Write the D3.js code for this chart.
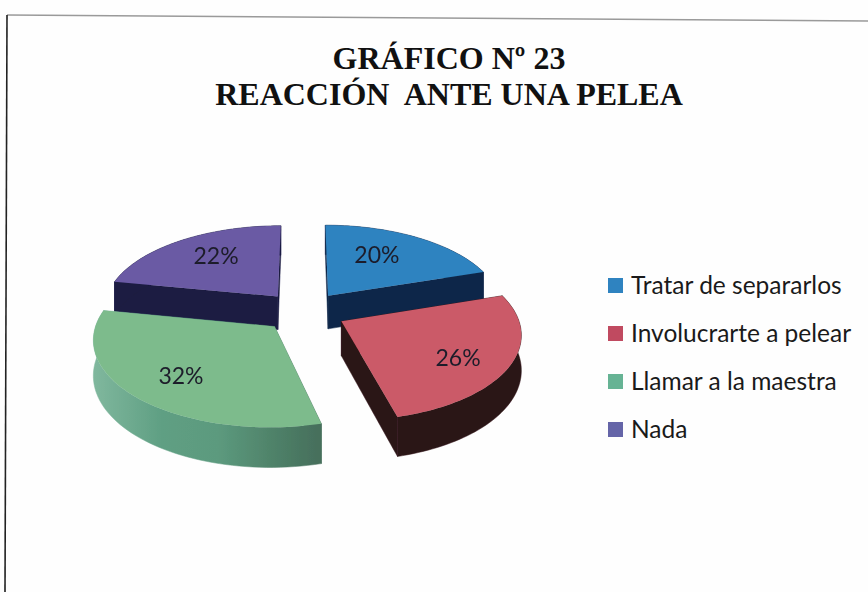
<!DOCTYPE html>
<html><head><meta charset="utf-8">
<script src="https://cdn.jsdelivr.net/npm/d3@7"></script>
<style>html,body{margin:0;padding:0;background:#fefefe}svg{display:block}</style>
</head><body><svg id="c" width="868" height="592"></svg>
<script>
const titleLines = ["GRÁFICO Nº 23", "REACCIÓN  ANTE UNA PELEA"];
const categories = ["Tratar de separarlos", "Involucrarte a pelear", "Llamar a la maestra", "Nada"];
const values = [20, 26, 32, 22];
const topColors = ["#2f83c0", "#cb5a68", "#7dbb8c", "#6a5aa4"];
const sideColors = ["#10284a", "#2c1315", "#5b9a80", "#1b1b42"];
const legendColors = ["#2f83c0", "#c04a60", "#66b394", "#6565a8"];
const labelReachX = [0.537, 0.697, 0.693, 0.623];
const labelReachY = [0.677, 0.838, 0.723, 0.705];
const drawOrder = [3, 0, 2, 1];

const W = 868, H = 592;
const cx = 304, cy = 311.5, R = 175, squash = 83.5 / 175, persp = 0.13, explode = 0.24, depth = 34;

const svg = d3.select("#c");
const defs = svg.append("defs");
const soft = defs.append("filter").attr("id", "soft").attr("x", "-5%").attr("y", "-5%").attr("width", "110%").attr("height", "110%");
soft.append("feGaussianBlur").attr("stdDeviation", 0.6);
const softText = defs.append("filter").attr("id", "softText");
softText.append("feGaussianBlur").attr("stdDeviation", 0.35);

const gg = defs.append("linearGradient").attr("id", "greenSide").attr("gradientUnits", "userSpaceOnUse")
  .attr("x1", 95).attr("x2", 318).attr("y1", 0).attr("y2", 0);
[[0, "#7fb79d"], [0.3, "#5f9f83"], [0.55, "#5c9a7e"], [0.8, "#4f8269"], [1, "#466f5c"]]
  .forEach(s => gg.append("stop").attr("offset", s[0]).attr("stop-color", s[1]));

svg.append("rect").attr("width", W).attr("height", H).attr("fill", "#fefefe");
svg.append("line").attr("x1", 7).attr("y1", 15).attr("x2", 868).attr("y2", 21).attr("stroke", "#9a9a9a").attr("stroke-width", 1.6);
svg.append("line").attr("x1", 7).attr("y1", 15).attr("x2", 5).attr("y2", 592).attr("stroke", "#222").attr("stroke-width", 1.6);

svg.selectAll("text.title").data(titleLines).join("text").attr("class", "title")
  .attr("x", 449).attr("y", (d, i) => 69 + i * 35.5).attr("text-anchor", "middle")
  .attr("xml:space", "preserve").style("white-space", "pre")
  .attr("font-family", "Liberation Serif").attr("font-weight", "bold").attr("font-size", 32).attr("fill", "#111")
  .text(d => d);

const pie = d3.pie().sort(null).value(d => d)(values);
const project = (X, Y, h) => {
  const f = 1 / (1 - persp * Y);
  return [cx + R * X * f, cy + R * squash * Y * f + h * depth * f];
};
const line = d3.line();
const pts = (a0, a1, ox, oy, r, h) => d3.range(0, 61).map(i => {
  const t = a0 + (a1 - a0) * i / 60;
  return project(ox + r * Math.sin(t), oy - r * Math.cos(t), h);
});

const g = svg.append("g").attr("filter", "url(#soft)");
drawOrder.forEach(i => {
  const s = pie[i], mid = (s.startAngle + s.endAngle) / 2;
  const ox = explode * Math.sin(mid), oy = -explode * Math.cos(mid);
  const arcTop = pts(s.startAngle, s.endAngle, ox, oy, 1, 0);
  const arcBot = pts(s.startAngle, s.endAngle, ox, oy, 1, 1);
  const apexT = project(ox, oy, 0), apexB = project(ox, oy, 1);
  const fill = i === 2 ? "url(#greenSide)" : sideColors[i];
  [[apexT, arcTop[0], arcBot[0], apexB],
   [apexT, arcTop[60], arcBot[60], apexB],
   arcTop.concat(arcBot.slice().reverse())].forEach(poly => {
    g.append("path").attr("d", line(poly) + "Z").attr("fill", fill).attr("stroke", fill).attr("stroke-width", 0.5);
  });
  g.append("path").attr("d", line([apexT].concat(arcTop)) + "Z").attr("fill", topColors[i]);
});

const texts = svg.append("g").attr("filter", "url(#softText)");
pie.forEach((s, i) => {
  const mid = (s.startAngle + s.endAngle) / 2;
  const p = project(explode * Math.sin(mid) + labelReachX[i] * Math.sin(mid),
                    -explode * Math.cos(mid) - labelReachY[i] * Math.cos(mid), 0);
  texts.append("text").attr("x", p[0]).attr("y", p[1]).attr("dy", "0.35em").attr("text-anchor", "middle")
    .attr("font-family", "Lato").attr("font-size", 23).attr("fill", "#1c1c2a").text(values[i] + "%");
});

const legendY = d3.scalePoint().domain(categories).range([285.5, 429.5]);
const lg = svg.selectAll("g.leg").data(categories).join("g").attr("class", "leg")
  .attr("transform", d => `translate(608,${legendY(d)})`);
lg.append("rect").attr("y", -7.5).attr("width", 15).attr("height", 15).attr("fill", (d, i) => legendColors[i]);
lg.append("text").attr("x", 23).attr("y", 8).attr("font-family", "Lato").attr("font-size", 24.5).attr("fill", "#1a1a1a").text(d => d);
</script></body></html>
